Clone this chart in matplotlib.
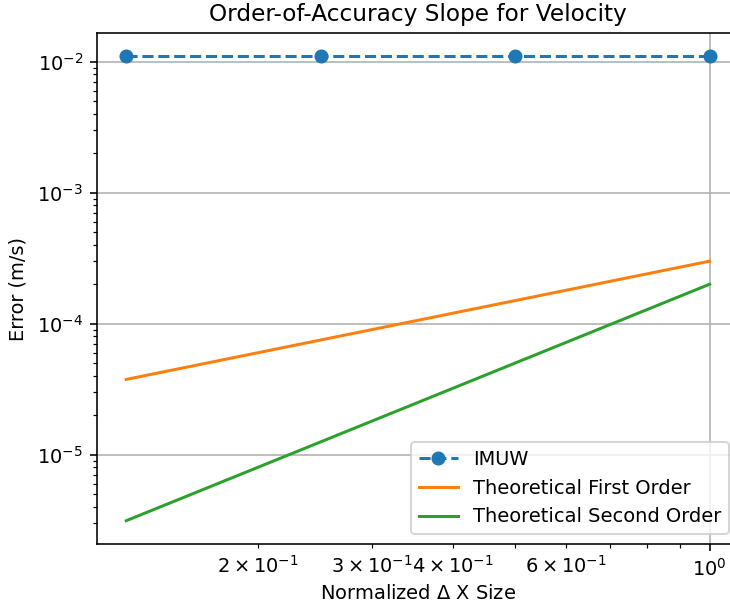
import numpy as np
import matplotlib
matplotlib.use('Agg')
import matplotlib.pyplot as plt

# normalized grid spacing and errors
dx = [0.125, 0.25, 0.5, 1.0]
err_imuw = [0.011, 0.011, 0.011, 0.011]
err_first = [3.75e-5, 7.5e-5, 1.5e-4, 3.0e-4]
err_second = [3.125e-6, 1.25e-5, 5.0e-5, 2.0e-4]

plt.rcParams['font.size'] = 9.7

fig = plt.figure(figsize=(730 / 144, 603 / 144), dpi=144)
ax = fig.add_axes([0.133, 0.098, 0.879, 0.847])

ax.loglog(dx, err_imuw, 'o--', label='IMUW')
ax.loglog(dx, err_first, label='Theoretical First Order')
ax.loglog(dx, err_second, label='Theoretical Second Order')

ax.grid(True)
ax.set_title('Order-of-Accuracy Slope for Velocity')
ax.set_xlabel(r'Normalized $\Delta$ X Size', labelpad=2)
ax.set_ylabel('Error (m/s)', labelpad=5)
ax.legend(loc='lower right')

plt.savefig('out.png', dpi=144)
plt.close()
